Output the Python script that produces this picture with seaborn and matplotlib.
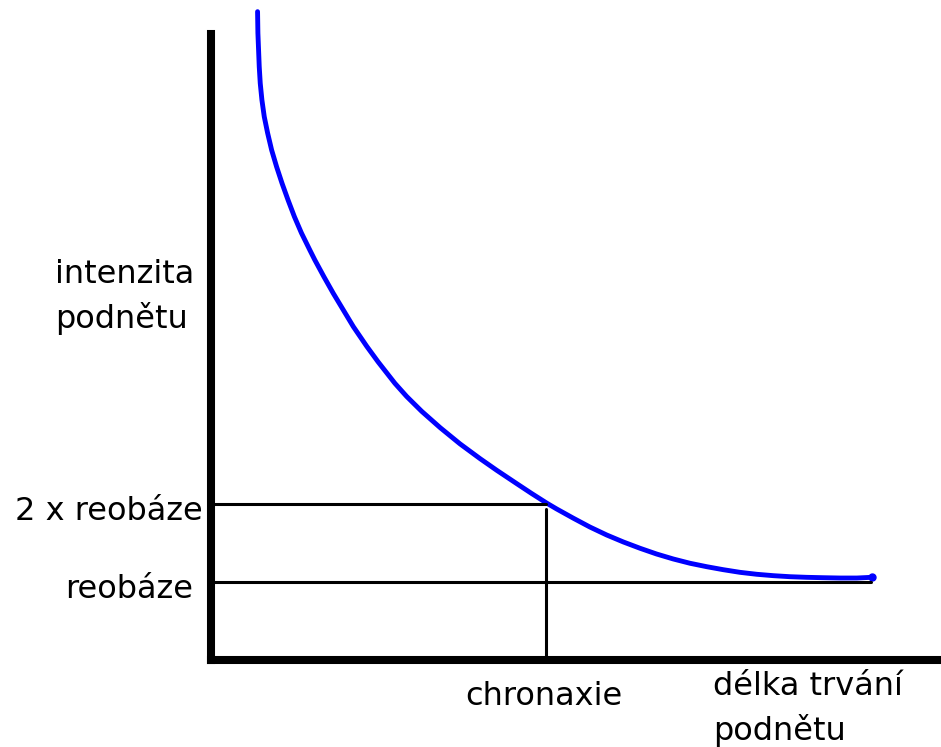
import numpy as np
import pandas as pd
import matplotlib
matplotlib.use('Agg')
import matplotlib.pyplot as plt
import seaborn as sns

# Strength-duration curve
# duration in units of chronaxie, intensity in units of rheobase
duration = [0.139, 0.140, 0.144, 0.147, 0.152, 0.159, 0.169, 0.181, 0.196, 0.212,
            0.230, 0.249, 0.270, 0.295, 0.310, 0.337, 0.365, 0.395, 0.425, 0.465,
            0.499, 0.549, 0.584, 0.629, 0.684, 0.743, 0.803, 0.853, 0.913, 0.957,
            1.002, 1.032, 1.082, 1.131, 1.181, 1.231, 1.281, 1.330, 1.380, 1.430,
            1.480, 1.529, 1.579, 1.629, 1.679, 1.728, 1.778, 1.828, 1.878, 1.928,
            1.972]
intensity = [8.312, 8.038, 7.606, 7.394, 7.179, 6.965, 6.756, 6.538, 6.321, 6.112,
             5.897, 5.683, 5.474, 5.256, 5.128, 4.914, 4.701, 4.487, 4.273, 4.021,
             3.821, 3.547, 3.379, 3.188, 2.979, 2.772, 2.582, 2.432, 2.260, 2.135,
             2.012, 1.936, 1.817, 1.705, 1.603, 1.513, 1.432, 1.359, 1.295, 1.240,
             1.196, 1.158, 1.124, 1.099, 1.081, 1.068, 1.060, 1.055, 1.051, 1.051,
             1.060]

rheobase = 1.0
chronaxie = 1.0
rheobase_end = 1.97
chronaxie_top = 1.94

y_labels = ['2 x reobáze', 'reobáze']
y_title = ['intenzita', 'podnětu']
x_label = 'chronaxie'
x_title = ['délka trvání', 'podnětu']

df = pd.DataFrame({'duration': duration, 'intensity': intensity})

sns.set_style('white')
plt.rcParams['font.family'] = ['DejaVu Sans']
plt.rcParams['text.color'] = 'black'

fig = plt.figure(figsize=(9.41, 7.47), dpi=100)
ax = fig.add_axes([211 / 941, 87 / 747, 730 / 941, 626 / 747])

sns.lineplot(data=df, x='duration', y='intensity', ax=ax, color='#0000ff',
             linewidth=3.5, sort=False, clip_on=False,
             solid_capstyle='round', solid_joinstyle='round')
ax.plot(duration[-1], intensity[-1], 'o', color='#0000ff', markersize=5, clip_on=False)

# reference lines
ax.plot([0, chronaxie], [2 * rheobase, 2 * rheobase], color='black', linewidth=2.2)
ax.plot([0, rheobase_end], [rheobase, rheobase], color='black', linewidth=2.2)
ax.plot([chronaxie, chronaxie], [0, chronaxie_top], color='black', linewidth=2.2)

ax.set_xlim(0, 730 / 335)
ax.set_ylim(0, 626 / 78)
ax.set_xticks([])
ax.set_yticks([])
ax.set_xlabel('')
ax.set_ylabel('')
for side in ['top', 'right']:
    ax.spines[side].set_visible(False)
for side in ['left', 'bottom']:
    ax.spines[side].set_linewidth(5.8)
    ax.spines[side].set_color('black')
    ax.spines[side].set_capstyle('projecting')

fs = 23


def fx(px):
    return px / 941


def fy(py):
    return 1 - py / 747


fig.text(fx(203), fy(520), y_labels[0], ha='right', va='baseline', fontsize=fs)
fig.text(fx(193), fy(598), y_labels[1], ha='right', va='baseline', fontsize=fs)
fig.text(fx(55), fy(283), y_title[0], ha='left', va='baseline', fontsize=fs)
fig.text(fx(55), fy(328), y_title[1], ha='left', va='baseline', fontsize=fs)
fig.text(fx(544), fy(705), x_label, ha='center', va='baseline', fontsize=fs)
fig.text(fx(713), fy(695), x_title[0], ha='left', va='baseline', fontsize=fs)
fig.text(fx(713), fy(740), x_title[1], ha='left', va='baseline', fontsize=fs)

fig.savefig('out.png', dpi=100)
